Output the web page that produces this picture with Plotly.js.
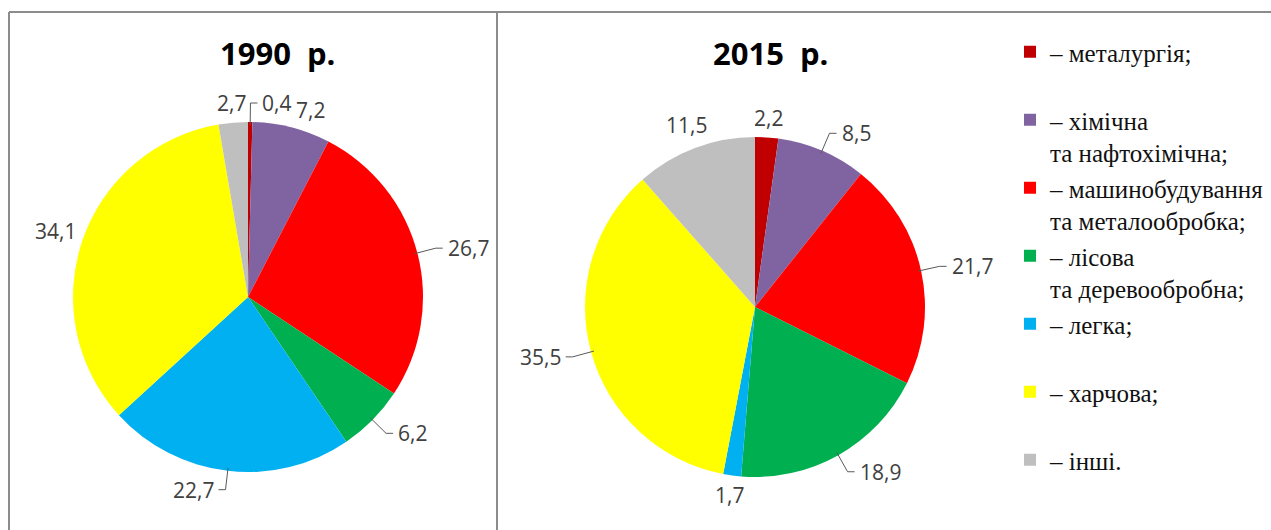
<!DOCTYPE html>
<html><head><meta charset="utf-8">
<script src="https://cdn.plot.ly/plotly-3.0.1.min.js"></script>
<style>html,body{margin:0;padding:0;background:#fff}</style>
</head><body>
<div id="chart" style="width:1271px;height:530px"></div>
<script>
const categories = [
  "– металургія;",
  "– хімічна<br>та нафтохімічна;",
  "– машинобудування<br>та металообробка;",
  "– лісова<br>та деревообробна;",
  "– легка;",
  "– харчова;",
  "– інші."
];
const values1990 = [0.4, 7.2, 26.7, 6.2, 22.7, 34.1, 2.7];
const values2015 = [2.2, 8.5, 21.7, 18.9, 1.7, 35.5, 11.5];
const titles = ["1990  р.", "2015  р."];

// ---- style (not data) ----
const colors = ["#C00000", "#8064A2", "#FF0000", "#00B050", "#00B0F0", "#FFFF00", "#BFBFBF"];
const leaders1990 = [true, false, true, true, true, false, false];
const leaders2015 = [false, true, true, true, false, true, false];
const W = 1271, H = 530;
const px = x => x / W;
const py = y => 1 - y / H;
const geo1990 = {x0: 73, x1: 423, y0: 122, y1: 472};
const geo2015 = {x0: 585, x1: 925, y0: 137, y1: 477};
const LABEL_FS = 21;
const LABEL_FONT = {family: "Open Sans, Liberation Sans, sans-serif", size: LABEL_FS, color: "#404040"};

// pad legend labels to equal height (2 lines)
const legendLabels = categories.map(c => c.split("<br>").length < 2 ? c + "<br>\u00a0" : c);

function fmt(v) { return v.toFixed(1).replace(".", ","); }
function textWidth(t) {
  let w = 0;
  for (const ch of t) w += (ch === "," ? 0.26 : 0.572) * LABEL_FS;
  return w;
}

const shapes = [
  {type: "line", xref: "paper", yref: "paper", x0: px(9), x1: 1, y0: py(12), y1: py(12), line: {color: "#8c8c8c", width: 2}},
  {type: "line", xref: "paper", yref: "paper", x0: px(9), x1: px(9), y0: py(12), y1: 0, line: {color: "#8c8c8c", width: 2}},
  {type: "line", xref: "paper", yref: "paper", x0: px(497), x1: px(497), y0: py(12), y1: 0, line: {color: "#8c8c8c", width: 2}}
];
const annotations = [];

function overlaps(a, b) {
  const pad = 5;
  return a.x0 - pad < b.x1 && b.x0 - pad < a.x1 && a.y0 < b.y1 && b.y0 < a.y1;
}

function addLabels(values, geo, leaders) {
  const cx = (geo.x0 + geo.x1) / 2, cy = (geo.y0 + geo.y1) / 2;
  const r = Math.min(geo.x1 - geo.x0, geo.y1 - geo.y0) / 2;
  const total = values.reduce((a, b) => a + b, 0);
  const boxes = [];
  const hh = LABEL_FS * 0.62;
  let cum = 0;
  const mids = values.map(v => { const m = (cum + v / 2) / total * 2 * Math.PI; cum += v; return m; });
  values.forEach((v, i) => {
    if (!leaders[i]) return;
    const t = fmt(v), w = textWidth(t);
    const m = mids[i], s = Math.sin(m), c = Math.cos(m);
    const e = [cx + (r - 3) * s, cy - (r - 3) * c];
    const b = [cx + (r + 19) * s, cy - (r + 19) * c];
    const sg = s >= 0 ? 1 : -1;
    const h = [b[0] + sg * 7, b[1]];
    shapes.push({type: "path", xref: "paper", yref: "paper",
      path: `M${px(e[0])},${py(e[1])} L${px(b[0])},${py(b[1])} L${px(h[0])},${py(h[1])}`,
      line: {color: "#595959", width: 1}});
    const tx = h[0] + sg * 3;
    annotations.push({x: px(tx), y: py(h[1]), xref: "paper", yref: "paper", text: t, showarrow: false,
      xanchor: sg > 0 ? "left" : "right", yanchor: "middle", font: LABEL_FONT});
    const bx0 = sg > 0 ? tx : tx - w;
    boxes.push({x0: bx0, x1: bx0 + w, y0: h[1] - hh, y1: h[1] + hh});
  });
  values.forEach((v, i) => {
    if (leaders[i]) return;
    const t = fmt(v), w = textWidth(t);
    let m = mids[i], box, X, Y;
    for (let k = 0; k < 60; k++) {
      const s = Math.sin(m), c = Math.cos(m);
      const ext = Math.abs(s) * w / 2 + Math.abs(c) * hh;
      const d = r + 5 + ext;
      X = cx + d * s; Y = cy - d * c;
      box = {x0: X - w / 2, x1: X + w / 2, y0: Y - hh, y1: Y + hh};
      if (!boxes.some(bb => overlaps(bb, box))) break;
      m += Math.PI / 180;
    }
    boxes.push(box);
    annotations.push({x: px(X), y: py(Y), xref: "paper", yref: "paper", text: t, showarrow: false,
      xanchor: "center", yanchor: "middle", font: LABEL_FONT});
  });
}
addLabels(values1990, geo1990, leaders1990);
addLabels(values2015, geo2015, leaders2015);

function pie(values, geo) {
  return {
    type: "pie",
    values: values,
    labels: legendLabels,
    sort: false,
    direction: "clockwise",
    rotation: 0,
    marker: {colors: colors, line: {color: "#ffffff", width: 0}},
    textinfo: "none",
    domain: {x: [px(geo.x0), px(geo.x1)], y: [py(geo.y1), py(geo.y0)]},
    hoverinfo: "label+value",
    automargin: false
  };
}

const data = [pie(values1990, geo1990), pie(values2015, geo2015)];

const titleFont = {family: "Open Sans, Liberation Sans, sans-serif", size: 31, color: "#000", weight: 700};
annotations.push(
  {text: "<b>" + titles[0] + "</b>", x: px(277), y: py(53), xref: "paper", yref: "paper",
   xanchor: "center", yanchor: "middle", showarrow: false, font: titleFont},
  {text: "<b>" + titles[1] + "</b>", x: px(770), y: py(53), xref: "paper", yref: "paper",
   xanchor: "center", yanchor: "middle", showarrow: false, font: titleFont}
);

const layout = {
  width: W, height: H,
  margin: {l: 0, r: 0, t: 0, b: 0},
  paper_bgcolor: "#ffffff",
  showlegend: true,
  legend: {
    x: px(1010), y: py(29), xanchor: "left", yanchor: "top",
    valign: "top",
    bgcolor: "rgba(0,0,0,0)",
    font: {family: "Liberation Serif, Times New Roman, serif", size: 25, color: "#111111"}
  },
  annotations: annotations,
  shapes: shapes
};

Plotly.newPlot("chart", data, layout, {displayModeBar: false, staticPlot: true});
</script>
</body></html>
